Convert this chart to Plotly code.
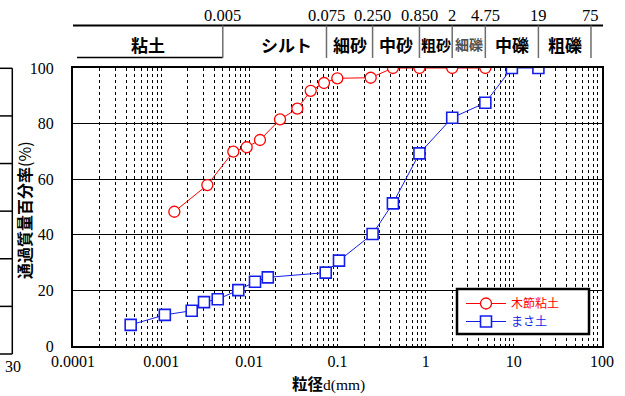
import math
import plotly.graph_objects as go

# ---- data ----
mokusetsu_d = [0.00141, 0.00334, 0.00658, 0.00933, 0.0132, 0.0223, 0.035, 0.0497,
               0.0703, 0.0995, 0.238, 0.425, 0.85, 2.0, 4.75]
mokusetsu_p = [48.3, 57.9, 69.9, 71.5, 74.1, 81.5, 85.4, 91.8,
               94.6, 96.3, 96.5, 100, 100, 100, 100]
masa_d = [0.000451, 0.0011, 0.00222, 0.00306, 0.00438, 0.0075, 0.0116, 0.0162,
          0.0735, 0.104, 0.25, 0.425, 0.85, 2.0, 4.75, 9.5, 19]
masa_p = [7.6, 11.2, 12.7, 15.8, 16.8, 20.1, 23.1, 24.7,
          26.4, 30.7, 40.3, 51.3, 69.3, 82.1, 87.5, 100, 100]

series_names = ["木節粘土", "まさ土"]
decade_labels = ["0.0001", "0.001", "0.01", "0.1", "1", "10", "100"]
y_ticks = [0, 20, 40, 60, 80, 100]

boundaries = [0.0001, 0.005, 0.075, 0.25, 0.85, 2, 4.75, 19, 75]
boundary_labels = ["0.005", "0.075", "0.250", "0.850", "2", "4.75", "19", "75"]
categories = ["粘土", "シルト", "細砂", "中砂", "粗砂", "細礫", "中礫", "粗礫"]

neighbor_ticks = 6  # cropped neighbour chart on the far left
neighbor_label = "30"

# ---- layout constants ----
W, H = 625, 396
ML, MR, MT, MB = 73, 23, 68, 50
PW, PH = W - ML - MR, H - MT - MB
XLOG = (-4, 2)

def fx(v):
    return (math.log10(v) - XLOG[0]) / (XLOG[1] - XLOG[0])

def px2x(p):
    return (p - ML) / PW

def px2y(q):
    return (H - MB - q) / PH

RED = "rgb(255,0,0)"
BLUE = "rgb(20,30,235)"
SERIF = "Liberation Serif"
JP = "Noto Sans CJK JP"

tickvals, ticktext = [], []
for k, lab in zip(range(-4, 3), decade_labels):
    for m in range(1, 10):
        if k == 2 and m > 1:
            break
        tickvals.append(m * 10 ** k)
        ticktext.append(lab if m == 1 else "")

fig = go.Figure()
fig.add_trace(go.Scatter(
    x=mokusetsu_d, y=mokusetsu_p, mode="lines+markers",
    name=f"<span style='color:{RED}'>{series_names[0]}</span>",
    line=dict(color=RED, width=1), legend="legend",
    marker=dict(symbol="circle", size=11, color="white", line=dict(color=RED, width=1.3)),
))
fig.add_trace(go.Scatter(
    x=masa_d, y=masa_p, mode="lines+markers",
    name=f"<span style='color:{BLUE}'>{series_names[1]}</span>",
    line=dict(color=BLUE, width=1), legend="legend2",
    marker=dict(symbol="square", size=11, color="white", line=dict(color=BLUE, width=1.6)),
))

shapes = []
annotations = []

# header table
y_top = px2y(25.5)
y_sep_bot = px2y(58)
y_num = px2y(15)
y_cat = px2y(44)
shapes.append(dict(type="line", xref="paper", yref="paper", x0=0, x1=1.002, y0=y_top, y1=y_top,
                   line=dict(color="black", width=2)))
shapes.append(dict(type="line", xref="paper", yref="paper", x0=px2x(77), x1=fx(boundaries[1]),
                   y0=px2y(57.5), y1=px2y(57.5), line=dict(color="black", width=1.5)))
for b, lab in zip(boundaries[1:], boundary_labels):
    shapes.append(dict(type="line", xref="paper", yref="paper", x0=fx(b), x1=fx(b),
                       y0=y_sep_bot, y1=y_top, line=dict(color="rgb(110,110,110)", width=1.5)))
    annotations.append(dict(xref="paper", yref="paper", x=fx(b), y=y_num, text=lab,
                            showarrow=False, xanchor="center", yanchor="middle",
                            font=dict(family=SERIF, size=16.5, color="black")))
for i, cat in enumerate(categories):
    lo, hi = boundaries[i], boundaries[i + 1]
    mid = 10 ** ((math.log10(lo) + math.log10(hi)) / 2)
    size = 17
    color = "black"
    xshift = 0
    if cat == "シルト":
        xshift = 12
    if cat == "粗砂":
        size = 15
    if cat == "細礫":
        size = 14
        color = "rgb(80,80,80)"
    annotations.append(dict(xref="paper", yref="paper", x=fx(mid), y=y_cat, text=f"<b>{cat}</b>",
                            showarrow=False, xanchor="center", yanchor="middle", xshift=xshift,
                            font=dict(family=JP, size=size, color=color)))

# axis titles
annotations.append(dict(xref="paper", yref="paper", x=px2x(24), y=px2y(210),
                        text="<b>通過質量百分率</b>(%)", textangle=-90, showarrow=False,
                        xanchor="center", yanchor="middle",
                        font=dict(family=JP, size=16, color="black")))
annotations.append(dict(xref="paper", yref="paper", x=px2x(328), y=px2y(383),
                        text=f"<b>粒径</b><span style='font-family:{SERIF}'>d(mm)</span>",
                        showarrow=False, xanchor="center", yanchor="middle",
                        font=dict(family=JP, size=15.5, color="black")))

# cropped neighbour chart at the far left
nb_top, nb_bot, nb_right = 68.3, 354, 12.3
shapes.append(dict(type="line", xref="paper", yref="paper", x0=px2x(nb_right), x1=px2x(nb_right),
                   y0=px2y(nb_top), y1=px2y(nb_bot), line=dict(color="black", width=1.5)))
for i in range(neighbor_ticks + 1):
    q = nb_top + (nb_bot - nb_top) * i / neighbor_ticks
    shapes.append(dict(type="line", xref="paper", yref="paper", x0=px2x(-2), x1=px2x(nb_right),
                       y0=px2y(q), y1=px2y(q), line=dict(color="black", width=1.5)))
annotations.append(dict(xref="paper", yref="paper", x=px2x(13), y=px2y(366), text=neighbor_label,
                        showarrow=False, xanchor="center", yanchor="middle",
                        font=dict(family=SERIF, size=16, color="black")))

# legend frame
shapes.append(dict(type="rect", xref="paper", yref="paper", layer="above",
                   x0=px2x(457), x1=px2x(589), y0=px2y(289), y1=px2y(334),
                   line=dict(color="black", width=2.5), fillcolor="white"))

leg_common = dict(xanchor="left", yanchor="middle", bgcolor="rgba(0,0,0,0)", borderwidth=0,
                  font=dict(family=JP, size=12), itemwidth=40)

fig.update_layout(
    width=W, height=H,
    margin=dict(l=ML, r=MR, t=MT, b=MB, pad=0),
    paper_bgcolor="white", plot_bgcolor="white",
    shapes=shapes, annotations=annotations,
    showlegend=True,
    legend=dict(x=px2x(461), y=px2y(303.5), **leg_common),
    legend2=dict(x=px2x(461), y=px2y(321.5), **leg_common),
)
fig.update_xaxes(
    type="log", range=list(XLOG), tickvals=tickvals, ticktext=ticktext,
    showgrid=True, gridcolor="black", gridwidth=1, griddash="dot",
    showline=True, linecolor="black", linewidth=2, mirror=True,
    ticks="", tickfont=dict(family=SERIF, size=16, color="black"),
    zeroline=False,
)
fig.update_yaxes(
    range=[0, 100], tickvals=y_ticks, ticktext=[str(v) for v in y_ticks],
    showgrid=True, gridcolor="black", gridwidth=1.3,
    showline=True, linecolor="black", linewidth=2, mirror=True,
    ticks="", ticklabelstandoff=14, tickfont=dict(family=SERIF, size=16, color="black"),
    zeroline=False,
)

fig.write_html("out.html", config={"displayModeBar": False},
               post_script="document.body.style.margin='0';document.body.style.overflow='hidden';")
